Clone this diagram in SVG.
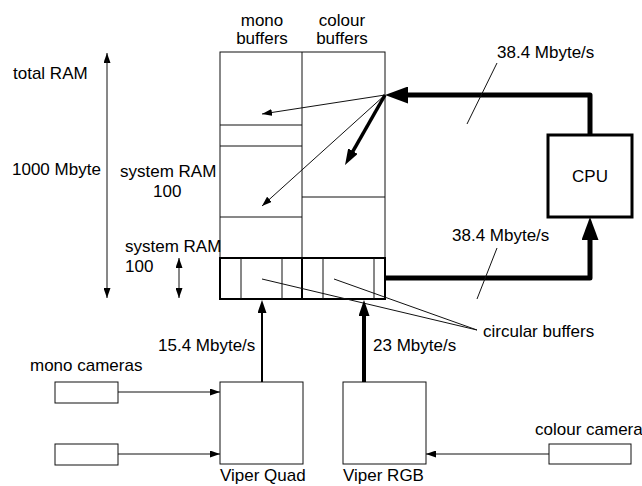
<svg xmlns="http://www.w3.org/2000/svg" width="642" height="486" viewBox="0 0 642 486">
<style>
text{font-family:"Liberation Sans",Arial,sans-serif;font-size:17px;fill:#000}
.m{text-anchor:middle}
.thin{fill:none;stroke:#111;stroke-width:1}
.box{fill:#fff;stroke:#111;stroke-width:1}
.row{fill:none;stroke:#000;stroke-width:2}
.thick{fill:none;stroke:#000;stroke-width:5;stroke-linejoin:round}
</style>
<defs>
<marker id="a" markerUnits="userSpaceOnUse" markerWidth="10" markerHeight="7" refX="10" refY="3.5" orient="auto"><path d="M0,0L10,3.5L0,7z" fill="#000"/></marker>
<marker id="a2" markerUnits="userSpaceOnUse" markerWidth="13" markerHeight="9" refX="5" refY="4.5" orient="auto"><path d="M0,0L13,4.5L0,9z" fill="#000"/></marker>
<marker id="a3" markerUnits="userSpaceOnUse" markerWidth="16" markerHeight="11" refX="6" refY="5.5" orient="auto"><path d="M0,0L16,5.5L0,11z" fill="#000"/></marker>
<marker id="big" markerUnits="userSpaceOnUse" markerWidth="23" markerHeight="17" refX="13" refY="8.5" orient="auto"><path d="M0,0L23,8.5L0,17z" fill="#000"/></marker>
</defs>

<g id="ram">
<rect class="box" x="220" y="52" width="165" height="247"/>
<line class="thin" x1="302" y1="52" x2="302" y2="258"/>
<line class="thin" x1="220" y1="125" x2="302" y2="125"/>
<line class="thin" x1="220" y1="146" x2="302" y2="146"/>
<line class="thin" x1="220" y1="217" x2="302" y2="217"/>
<line class="thin" x1="302" y1="197" x2="385" y2="197"/>
<text class="m" x="262" y="26">mono</text>
<text class="m" x="262" y="44">buffers</text>
<text class="m" x="342" y="26">colour</text>
<text class="m" x="342" y="44">buffers</text>
</g>

<g id="circular-buffers">
<rect class="row" x="220" y="258" width="165" height="41"/>
<line class="row" x1="302" y1="258" x2="302" y2="299"/>
<line class="thin" x1="241" y1="258" x2="241" y2="299"/>
<line class="thin" x1="282" y1="258" x2="282" y2="299"/>
<line class="thin" x1="323" y1="258" x2="323" y2="299"/>
<line class="thin" x1="374" y1="258" x2="374" y2="299"/>
<text x="483" y="337">circular buffers</text>
</g>

<g id="cpu">
<rect x="548" y="135" width="84" height="82" fill="#fff" stroke="#000" stroke-width="3"/>
<text class="m" x="590" y="182">CPU</text>
</g>

<g id="viper-quad">
<rect class="box" x="220" y="382" width="83" height="82"/>
<text x="220" y="481">Viper Quad</text>
</g>
<g id="viper-rgb">
<rect class="box" x="343" y="382" width="83" height="82"/>
<text x="343" y="481">Viper RGB</text>
</g>
<g id="mono-camera-1">
<rect class="box" x="55" y="382" width="63" height="21"/>
</g>
<g id="mono-camera-2">
<rect class="box" x="55" y="444" width="63" height="21"/>
</g>
<text x="30" y="371">mono cameras</text>
<g id="colour-camera">
<rect class="box" x="549" y="444" width="82" height="20"/>
<text x="535" y="435">colour camera</text>
</g>

<g id="labels">
<text x="13" y="79">total RAM</text>
<text x="12" y="175">1000 Mbyte</text>
<text x="120" y="177">system RAM</text>
<text x="153" y="197">100</text>
<text x="125" y="252">system RAM</text>
<text x="125" y="272">100</text>
<text x="497" y="58">38.4 Mbyte/s</text>
<text x="452" y="241">38.4 Mbyte/s</text>
<text x="158" y="351">15.4 Mbyte/s</text>
<text x="373" y="351">23 Mbyte/s</text>
</g>

<g id="connectors">
<line class="thin" x1="107" y1="60" x2="107" y2="53" marker-end="url(#a)"/>
<line class="thin" x1="107" y1="60" x2="107" y2="298" marker-end="url(#a)"/>
<line class="thin" x1="179" y1="270" x2="179" y2="258" marker-end="url(#a)"/>
<line class="thin" x1="179" y1="270" x2="179" y2="298" marker-end="url(#a)"/>
<polyline class="thick" points="590,135 590,95 395,95" marker-end="url(#big)"/>
<polyline class="thick" points="385,278 590,278 590,227" marker-end="url(#big)"/>
<line class="thin" x1="385" y1="95" x2="262" y2="114" marker-end="url(#a)"/>
<line class="thin" x1="385" y1="95" x2="262" y2="206" marker-end="url(#a)"/>
<line x1="385" y1="95" x2="350" y2="156.3" stroke="#000" stroke-width="3.5" marker-end="url(#a3)"/>
<line class="thin" x1="497" y1="63" x2="467" y2="124"/>
<line class="thin" x1="497" y1="248" x2="477" y2="299"/>
<line class="thin" x1="262" y1="279" x2="477" y2="330"/>
<line class="thin" x1="334" y1="279" x2="477" y2="330"/>
<line x1="262" y1="382" x2="262" y2="308" stroke="#000" stroke-width="2" marker-end="url(#a2)"/>
<line x1="364" y1="382" x2="364" y2="310" stroke="#000" stroke-width="4" marker-end="url(#a3)"/>
<line class="thin" x1="118" y1="392" x2="220" y2="392" marker-end="url(#a)"/>
<line class="thin" x1="118" y1="454" x2="220" y2="454" marker-end="url(#a)"/>
<line class="thin" x1="549" y1="454" x2="426" y2="454" marker-end="url(#a)"/>
</g>
</svg>
